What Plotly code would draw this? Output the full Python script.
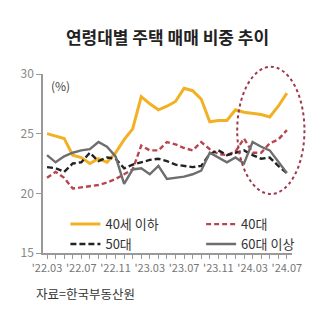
import plotly.graph_objects as go

# Monthly share of housing purchases by buyer age group (%), 2022.03 – 2024.07
months = [
    "'22.03", "'22.04", "'22.05", "'22.06", "'22.07", "'22.08", "'22.09", "'22.10",
    "'22.11", "'22.12", "'23.01", "'23.02", "'23.03", "'23.04", "'23.05", "'23.06",
    "'23.07", "'23.08", "'23.09", "'23.10", "'23.11", "'23.12", "'24.01", "'24.02",
    "'24.03", "'24.04", "'24.05", "'24.06", "'24.07",
]
under40 = [25.0, 24.8, 24.6, 23.2, 23.0, 22.5, 22.9, 22.6, 23.4, 24.5,
           25.4, 28.1, 27.5, 27.0, 27.3, 27.7, 28.8, 28.6, 27.9, 26.0,
           26.1, 26.1, 27.0, 26.8, 26.7, 26.6, 26.4, 27.3, 28.4]
forties = [21.3, 21.8, 21.3, 20.4, 20.5, 20.6, 20.7, 20.9, 21.2, 21.6,
           22.0, 24.0, 23.6, 23.6, 24.3, 24.1, 23.8, 23.6, 24.3, 23.7,
           23.3, 23.2, 23.5, 24.6, 23.4, 23.4, 24.2, 24.5, 25.3]
fifties = [22.2, 22.1, 21.8, 22.5, 22.6, 23.4, 22.7, 23.0, 22.9, 22.1,
           22.4, 22.6, 22.8, 22.9, 22.7, 22.4, 22.3, 22.2, 22.3, 23.3,
           23.6, 23.2, 23.4, 23.6, 23.2, 22.9, 23.0, 22.3, 21.7]
over60 = [23.2, 22.6, 23.1, 23.4, 23.6, 23.7, 24.3, 23.9, 23.1, 20.8,
          22.0, 22.1, 21.6, 22.3, 21.2, 21.3, 21.4, 21.6, 21.9, 23.4,
          23.0, 22.6, 23.0, 22.5, 24.3, 23.9, 23.6, 22.6, 21.7]

series_names = ["40세 이하", "40대", "50대", "60대 이상"]
y_ticks = [15, 20, 25, 30]

FONT = "Noto Sans CJK KR"
x_idx = list(range(len(months)))
tick_text = [m if i % 4 == 0 else "" for i, m in enumerate(months)]

styles = [
    dict(color="#f2b124", width=3, dash="solid", legend="legend"),
    dict(color="#b8454f", width=2.4, dash="5px,3px", legend="legend2"),
    dict(color="#222222", width=2.4, dash="6px,3px", legend="legend"),
    dict(color="#6e6e6e", width=2.4, dash="solid", legend="legend2"),
]

fig = go.Figure()
for name, vals, st in zip(series_names, [under40, forties, fifties, over60], styles):
    fig.add_trace(go.Scatter(
        x=x_idx, y=vals, mode="lines", name=name, legend=st["legend"],
        line=dict(color=st["color"], width=st["width"], dash=st["dash"]),
        hoverinfo="skip",
    ))

# Dotted ellipse marking the most recent months
fig.add_shape(
    type="circle", xref="paper", yref="paper",
    x0=0.78, x1=1.05, y0=0.33, y1=1.04,
    line=dict(color="#9e3a4c", width=2, dash="dot"),
    layer="above",
)

legend_common = dict(
    orientation="v", y=0.245, xanchor="left", yanchor="top",
    font=dict(family=FONT, size=13, color="#333"),
    bgcolor="rgba(0,0,0,0)", tracegroupgap=0,
)

fig.update_layout(
    width=335, height=332,
    margin=dict(l=43, r=43, t=74, b=79),
    paper_bgcolor="white", plot_bgcolor="white",
    font=dict(family=FONT, color="#444"),
    title=dict(
        text="<b>연령대별 주택 매매 비중 추이</b>",
        x=0.5, xref="paper", xanchor="center",
        y=1 - 38 / 332, yanchor="middle",
        font=dict(family=FONT, size=17, color="#222"),
    ),
    showlegend=True,
    legend=dict(x=0.09, **legend_common),
    legend2=dict(x=0.635, **legend_common),
    xaxis=dict(
        range=[-0.47, 28.6],
        tickmode="array", tickvals=x_idx, ticktext=tick_text,
        ticks="outside", ticklen=4, tickcolor="#999", tickwidth=1,
        showline=True, linecolor="#999", linewidth=1.5,
        showgrid=False, zeroline=False,
        tickfont=dict(family=FONT, size=11, color="#777"),
        tickangle=0,
    ),
    yaxis=dict(
        range=[15, 30],
        tickmode="array", tickvals=y_ticks,
        ticks="outside", ticklen=5, tickcolor="#999", tickwidth=1,
        showline=True, linecolor="#999", linewidth=1.5,
        showgrid=False, zeroline=False,
        tickfont=dict(family=FONT, size=12, color="#888"),
    ),
    annotations=[
        dict(text="(%)", xref="paper", yref="paper", x=0.025, y=0.935,
             xanchor="left", yanchor="middle", showarrow=False,
             font=dict(family=FONT, size=12, color="#444")),
        dict(text="자료=한국부동산원", xref="paper", yref="paper",
             x=-0.035, y=-0.225, xanchor="left", yanchor="middle", showarrow=False,
             font=dict(family=FONT, size=12.5, color="#333")),
    ],
)

fig.write_html("out.html")
